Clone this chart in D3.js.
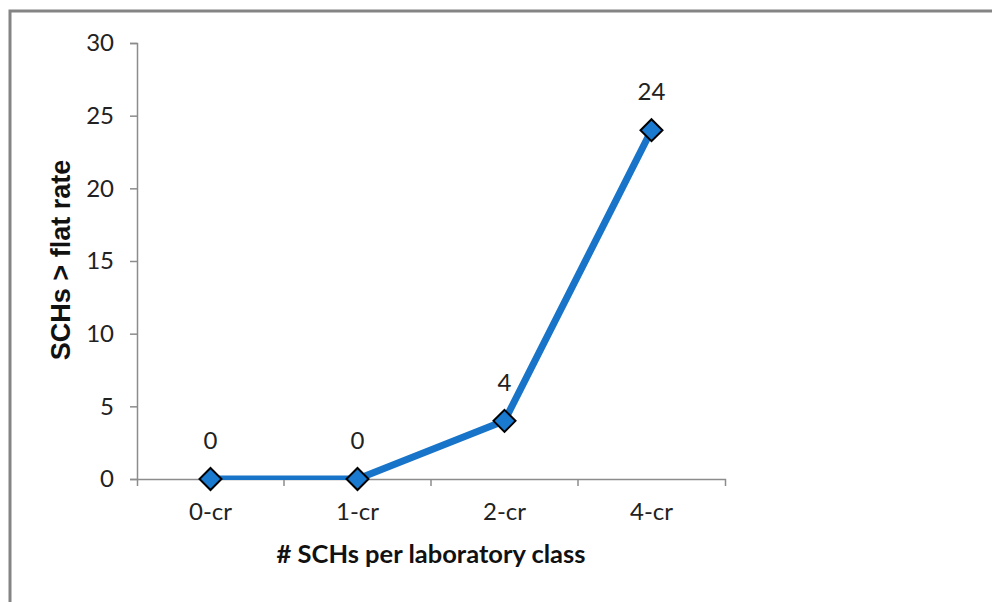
<!DOCTYPE html>
<html><head><meta charset="utf-8">
<script src="https://cdn.jsdelivr.net/npm/d3@7"></script>
<style>body{margin:0;background:#fff}svg{display:block}</style>
</head><body>
<script>
const categories = ["0-cr","1-cr","2-cr","4-cr"];
const values = [0,0,4,24];
const yTicks = [0,5,10,15,20,25,30];

const W=992,H=602;
const svg=d3.select("body").append("svg").attr("width",W).attr("height",H);
// frame
svg.append("path").attr("d",`M10,${H} L10,11 L${W},11`).attr("fill","none").attr("stroke","#848484").attr("stroke-width",3);

const x=d3.scaleBand().domain(categories).range([137,725]);
const y=d3.scaleLinear().domain([0,30]).range([479,43]);
const font="Lato, 'Open Sans', sans-serif";

const ya=svg.append("g").attr("transform","translate(137,0)")
 .call(d3.axisLeft(y).tickValues(yTicks).tickSize(7).tickPadding(16));
ya.selectAll("text").attr("font-family",font).attr("font-size",24).attr("fill","#222");
ya.selectAll("line,path").attr("stroke","#8c8c8c").attr("stroke-width",1.5);

const xa=svg.append("g").attr("transform","translate(0,479)")
 .call(d3.axisBottom(x).tickSizeOuter(7).tickSizeInner(0).tickPadding(24));
xa.selectAll(".tick line").remove();
xa.selectAll("text").attr("font-family",font).attr("font-size",24).attr("fill","#222");
xa.selectAll("path").attr("stroke","#8c8c8c").attr("stroke-width",1.5);
// boundary ticks
xa.selectAll(".btick").data(categories.slice(1)).enter().append("line")
 .attr("x1",d=>x(d)).attr("x2",d=>x(d)).attr("y1",0).attr("y2",7)
 .attr("stroke","#8c8c8c").attr("stroke-width",1.5);

svg.append("defs").append("clipPath").attr("id","clip").append("rect")
 .attr("x",137).attr("y",0).attr("width",700).attr("height",480);

const cx=d=>x(d)+x.bandwidth()/2;
const line=d3.line().x((d,i)=>cx(categories[i])).y(d=>y(d));
svg.append("path").datum(values).attr("d",line).attr("fill","none")
 .attr("stroke","#1874c8").attr("stroke-width",7).attr("stroke-linejoin","round").attr("clip-path","url(#clip)");

svg.selectAll(".m").data(values).enter().append("path")
 .attr("transform",(d,i)=>`translate(${cx(categories[i])},${y(d)})`)
 .attr("d","M0,-11L11,0L0,11L-11,0Z")
 .attr("fill","#1a7ad0").attr("stroke","#000").attr("stroke-width",2);

svg.selectAll(".lbl").data(values).enter().append("text")
 .attr("x",(d,i)=>cx(categories[i])).attr("y",d=>y(d)-30)
 .attr("text-anchor","middle").attr("font-family",font).attr("font-size",24).attr("fill","#222")
 .text(d=>d);

svg.append("text").attr("transform","translate(70,260) rotate(-90)").attr("text-anchor","middle")
 .attr("font-family","'Liberation Sans', Arial, sans-serif").attr("font-weight","bold").attr("font-size",27)
 .attr("fill","#111").text("SCHs > flat rate");
svg.append("text").attr("x",431).attr("y",563).attr("text-anchor","middle")
 .attr("font-family",font).attr("font-weight","bold").attr("font-size",25.5).attr("fill","#111")
 .text("# SCHs per laboratory  class");
</script>
</body></html>
